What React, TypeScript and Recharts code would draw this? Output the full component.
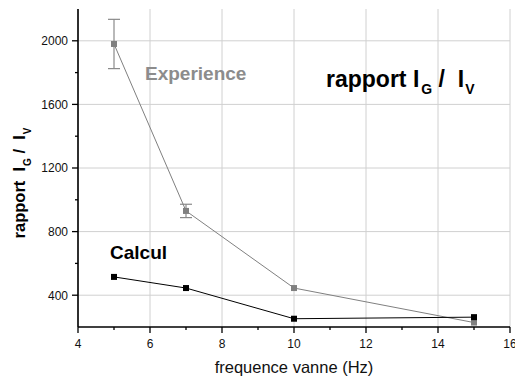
import { ComposedChart, Line, XAxis, YAxis, CartesianGrid, ErrorBar } from 'recharts';

// Experience (measured) values with their error bars
const freqExp = [5, 7, 10, 15];
const rapportExp = [1980, 930, 445, 228];
const errExp = [155, 42, 0, 0];

// Calcul (computed) values
const freqCalc = [5, 7, 10, 15];
const rapportCalc = [515, 445, 252, 262];

const xTicks = [4, 5, 6, 7, 8, 9, 10, 11, 12, 13, 14, 15, 16];
const xMajor = [4, 6, 8, 10, 12, 14, 16];
const yTicks = [400, 600, 800, 1000, 1200, 1400, 1600, 1800, 2000];
const yMajor = [400, 800, 1200, 1600, 2000];

const FONT = '"Liberation Sans", Arial, Helvetica, sans-serif';
const GRAY = '#808080';

const expData = freqExp.map((x, i) => ({ x, y: rapportExp[i], err: errExp[i] }));
const calcData = freqCalc.map((x, i) => ({ x, y: rapportCalc[i] }));

type Side = 'bottom' | 'left' | 'top' | 'right';

// tickSize/tickMargin are 0, so x/y given to the tick sit on the axis line itself
const tickFor = (side: Side) => (props: any) => {
  const { x, y, payload } = props;
  const v = payload.value;
  const horiz = side === 'bottom' || side === 'top';
  const major = horiz ? xMajor.includes(v) : yMajor.includes(v);
  const len = major ? 6 : 3;
  const line = { stroke: '#000', strokeWidth: 1.3 };
  if (side === 'bottom') {
    return (
      <g>
        <line x1={x} y1={y} x2={x} y2={y + len} {...line} />
        {major && (
          <text x={x} y={y + 21} textAnchor="middle" fontSize={12} fontFamily={FONT} fill="#111">
            {v}
          </text>
        )}
      </g>
    );
  }
  if (side === 'left') {
    return (
      <g>
        <line x1={x} y1={y} x2={x - len} y2={y} {...line} />
        {major && (
          <text x={x - 10} y={y + 4.3} textAnchor="end" fontSize={12} fontFamily={FONT} fill="#111">
            {v}
          </text>
        )}
      </g>
    );
  }
  if (side === 'top') {
    return <line x1={x} y1={y} x2={x} y2={y + len} {...line} />;
  }
  return <line x1={x} y1={y} x2={x - len} y2={y} {...line} />;
};

const square = (fill: string) => (p: any) => (
  <rect key={`${fill}-${p.index}`} x={p.cx - 3} y={p.cy - 3} width={6} height={6} fill={fill} />
);

export default function App() {
  const axisLine = { stroke: '#000', strokeWidth: 1.6 };
  return (
    <div style={{ position: 'absolute', left: 0, top: 0, width: 515, height: 378, background: '#fff' }}>
      <ComposedChart width={515} height={378} margin={{ top: 9, right: 5, bottom: 0, left: 8 }}>
        <CartesianGrid
          stroke="#d0d0d0"
          strokeWidth={1}
          horizontalValues={yMajor}
          verticalValues={xMajor}
        />
        <XAxis
          dataKey="x"
          type="number"
          domain={[4, 16]}
          allowDataOverflow
          ticks={xTicks}
          interval={0}
          height={51}
          tickSize={0}
          tickMargin={0}
          tickLine={false}
          axisLine={axisLine}
          tick={tickFor('bottom')}
        />
        <XAxis
          xAxisId="top"
          orientation="top"
          type="number"
          domain={[4, 16]}
          allowDataOverflow
          ticks={xTicks}
          interval={0}
          height={0}
          tickSize={0}
          tickMargin={0}
          tickLine={false}
          axisLine={axisLine}
          tick={tickFor('top')}
        />
        <YAxis
          type="number"
          domain={[200, 2200]}
          allowDataOverflow
          ticks={yTicks}
          interval={0}
          width={70}
          tickSize={0}
          tickMargin={0}
          tickLine={false}
          axisLine={axisLine}
          tick={tickFor('left')}
        />
        <YAxis
          yAxisId="right"
          orientation="right"
          type="number"
          domain={[200, 2200]}
          allowDataOverflow
          ticks={yTicks}
          interval={0}
          width={0}
          tickSize={0}
          tickMargin={0}
          tickLine={false}
          axisLine={axisLine}
          tick={tickFor('right')}
        />
        <Line
          data={expData}
          dataKey="y"
          stroke={GRAY}
          strokeWidth={1}
          dot={square(GRAY)}
          activeDot={false}
          isAnimationActive={false}
        >
          <ErrorBar dataKey="err" direction="y" width={6} stroke="#8a8a8a" strokeWidth={1.2} isAnimationActive={false} />
        </Line>
        <Line
          data={calcData}
          dataKey="y"
          stroke="#000"
          strokeWidth={1}
          dot={square('#000')}
          activeDot={false}
          isAnimationActive={false}
        />
      </ComposedChart>
      <svg
        width={515}
        height={378}
        style={{ position: 'absolute', left: 0, top: 0, pointerEvents: 'none' }}
        fontFamily={FONT}
      >
        <text x={145} y={80} fontSize={19} fontWeight="bold" fill="#8c8c8c">
          Experience
        </text>
        <text x={110} y={259} fontSize={19} fontWeight="bold" fill="#000">
          Calcul
        </text>
        <text x={326} y={87} fontSize={23} fontWeight="bold" fill="#000">
          rapport I
          <tspan fontSize={14} dx={2} dy={7}>G</tspan>
          <tspan dy={-7}>{'\u00A0/\u00A0\u00A0I'}</tspan>
          <tspan fontSize={14} dx={1} dy={7}>V</tspan>
        </text>
        <text x={294} y={373} fontSize={16.5} textAnchor="middle" fill="#111">
          frequence vanne (Hz)
        </text>
        <text
          transform="translate(25,183) rotate(-90)"
          textAnchor="middle"
          fontSize={16.5}
          fontWeight="bold"
          fill="#000"
        >
          {'rapport\u00A0\u00A0I'}
          <tspan fontSize={10} dx={1} dy={6}>G</tspan>
          <tspan dy={-6}>{'\u00A0/\u00A0\u00A0I'}</tspan>
          <tspan fontSize={10} dx={1} dy={6}>V</tspan>
        </text>
      </svg>
    </div>
  );
}
